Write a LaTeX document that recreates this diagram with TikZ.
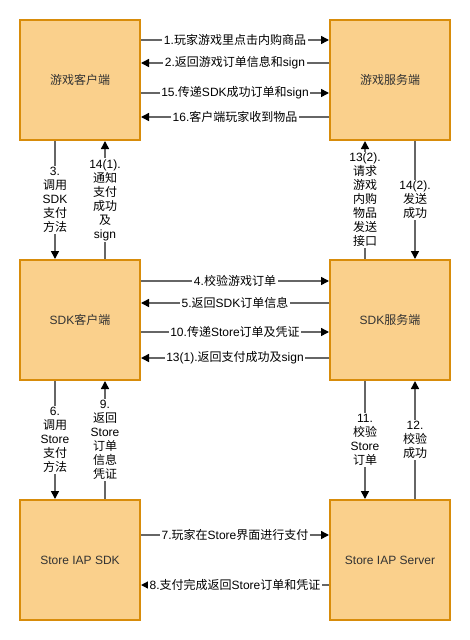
\documentclass[tikz,border=0pt]{standalone}
\usepackage{fontspec}
\setmainfont{Liberation Sans}
\newfontfamily\cjkfont{Noto Sans CJK SC}
% switch to the CJK font for Chinese characters
\XeTeXinterchartokenstate=1
\newXeTeXintercharclass\cjkclass
\count255="4E00
\loop
  \XeTeXcharclass\count255=\cjkclass
  \ifnum\count255<"9FFF \advance\count255 by 1
\repeat
\XeTeXinterchartoks 0 \cjkclass = {\begingroup\cjkfont}
\XeTeXinterchartoks 4095 \cjkclass = {\begingroup\cjkfont}
\XeTeXinterchartoks \cjkclass 0 = {\endgroup}
\XeTeXinterchartoks \cjkclass 4095 = {\endgroup}
\usetikzlibrary{arrows.meta}
\definecolor{iapFill}{HTML}{FAD08C}
\definecolor{iapStroke}{HTML}{D88C0A}
\definecolor{iapLine}{HTML}{666666}
\definecolor{iapText}{HTML}{333333}

\begin{document}
\begin{tikzpicture}[
    x=1pt, y=-1pt,
    box/.style={draw=iapStroke, fill=iapFill, line width=2pt, minimum width=120pt, minimum height=120pt,
                inner sep=0pt, text=iapText, font=\fontsize{12}{14}\selectfont},
    flow/.style={draw=iapLine, line width=1.5pt, -{Triangle[length=8pt, width=8pt, color=black]}},
    lbl/.style={fill=white, inner sep=1.5pt, align=center, text=black, font=\fontsize{12}{14}\selectfont}
]
\useasboundingbox (0,0) rectangle (470,640);

% ============================
% Boxes
% ============================
\node[box] (gameClient) at (80,80) {游戏客户端};
\node[box] (gameServer) at (390,80) {游戏服务端};
\node[box] (sdkClient) at (80,320) {SDK客户端};
\node[box] (sdkServer) at (390,320) {SDK服务端};
\node[box] (iapSdk) at (80,560) {Store IAP SDK};
\node[box] (iapServer) at (390,560) {Store IAP Server};

% ============================
% Game client <-> game server
% ============================
\draw[flow] (gameClient.east |- 0,40) -- node[lbl] {1.玩家游戏里点击内购商品} (gameServer.west |- 0,40);
\draw[flow] (gameServer.west |- 0,63) -- node[lbl] {2.返回游戏订单信息和sign} (gameClient.east |- 0,63);
\draw[flow] (gameClient.east |- 0,93) -- node[lbl] {15.传递SDK成功订单和sign} (gameServer.west |- 0,93);
\draw[flow] (gameServer.west |- 0,117) -- node[lbl] {16.客户端玩家收到物品} (gameClient.east |- 0,117);

% Game row <-> SDK row
\draw[flow] (gameClient.south -| 55,0) -- node[lbl] {3.\\调用\\SDK\\支付\\方法} (sdkClient.north -| 55,0);
\draw[flow] (sdkClient.north -| 105,0) -- node[lbl] {14(1).\\通知\\支付\\成功\\及\\sign} (gameClient.south -| 105,0);
\draw[flow] (sdkServer.north -| 365,0) -- node[lbl] {13(2).\\请求\\游戏\\内购\\物品\\发送\\接口} (gameServer.south -| 365,0);
\draw[flow] (gameServer.south -| 415,0) -- node[lbl] {14(2).\\发送\\成功} (sdkServer.north -| 415,0);

% ============================
% SDK client <-> SDK server
% ============================
\draw[flow] (sdkClient.east |- 0,281) -- node[lbl] {4.校验游戏订单} (sdkServer.west |- 0,281);
\draw[flow] (sdkServer.west |- 0,303) -- node[lbl] {5.返回SDK订单信息} (sdkClient.east |- 0,303);
\draw[flow] (sdkClient.east |- 0,332) -- node[lbl] {10.传递Store订单及凭证} (sdkServer.west |- 0,332);
\draw[flow] (sdkServer.west |- 0,358) -- node[lbl] {13(1).返回支付成功及sign} (sdkClient.east |- 0,358);

% SDK row <-> Store row
\draw[flow] (sdkClient.south -| 55,0) -- node[lbl] {6.\\调用\\Store\\支付\\方法} (iapSdk.north -| 55,0);
\draw[flow] (iapSdk.north -| 105,0) -- node[lbl] {9.\\返回\\Store\\订单\\信息\\凭证} (sdkClient.south -| 105,0);
\draw[flow] (sdkServer.south -| 365,0) -- node[lbl] {11.\\校验\\Store\\订单} (iapServer.north -| 365,0);
\draw[flow] (iapServer.north -| 415,0) -- node[lbl] {12.\\校验\\成功} (sdkServer.south -| 415,0);

% ============================
% Store IAP SDK <-> Store IAP server
% ============================
\draw[flow] (iapSdk.east |- 0,535) -- node[lbl] {7.玩家在Store界面进行支付} (iapServer.west |- 0,535);
\draw[flow] (iapServer.west |- 0,585) -- node[lbl] {8.支付完成返回Store订单和凭证} (iapSdk.east |- 0,585);

\end{tikzpicture}
\end{document}
